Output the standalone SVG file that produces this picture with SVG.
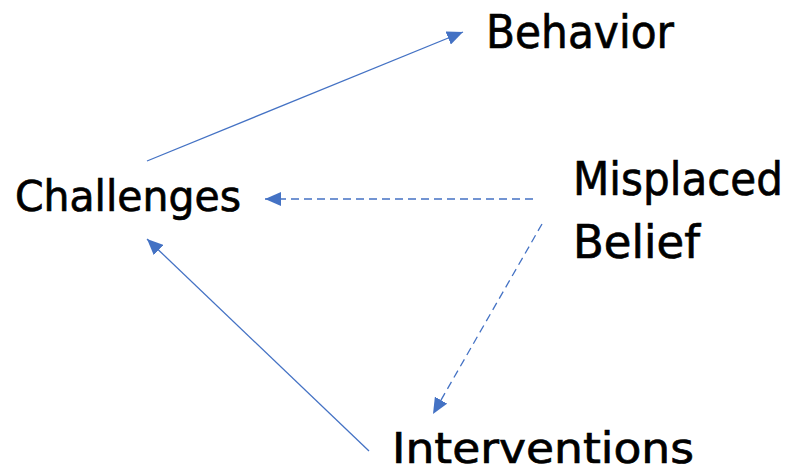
<svg xmlns="http://www.w3.org/2000/svg" width="797" height="472" viewBox="0 0 797 472">
<defs>
<style>
.lbl{font-family:"DejaVu Sans","Liberation Sans",sans-serif;fill:#000;stroke:#000;stroke-width:0.7;}
.c{stroke:#4472C4;stroke-width:1.3;fill:none;}
.d{stroke-dasharray:8 5;}
</style>
<marker id="ah" viewBox="0 0 16 14" markerWidth="16" markerHeight="14" refX="16" refY="7" orient="auto" markerUnits="userSpaceOnUse">
<path d="M0,0 L16,7 L0,14 z" fill="#4472C4"/>
</marker>
</defs>
<rect width="797" height="472" fill="#fff"/>
<g id="connectors">
<line class="c" x1="147" y1="161" x2="463" y2="32" marker-end="url(#ah)"/>
<line class="c d" x1="533" y1="199" x2="265" y2="199" marker-end="url(#ah)"/>
<line class="c d" x1="542" y1="224" x2="433" y2="414" marker-end="url(#ah)"/>
<line class="c" x1="369" y1="451" x2="147" y2="239" marker-end="url(#ah)"/>
</g>
<g id="behavior"><text class="lbl" x="486" y="48" font-size="46" textLength="188" lengthAdjust="spacingAndGlyphs">Behavior</text></g>
<g id="challenges"><text class="lbl" x="15" y="211" font-size="42" textLength="226" lengthAdjust="spacingAndGlyphs">Challenges</text></g>
<g id="misplaced-belief"><text class="lbl" x="573" y="195" font-size="47" textLength="210" lengthAdjust="spacingAndGlyphs">Misplaced</text><text class="lbl" x="573" y="258" font-size="46" textLength="127" lengthAdjust="spacingAndGlyphs">Belief</text></g>
<g id="interventions"><text class="lbl" x="392" y="463" font-size="43" textLength="302" lengthAdjust="spacingAndGlyphs">Interventions</text></g>
</svg>
